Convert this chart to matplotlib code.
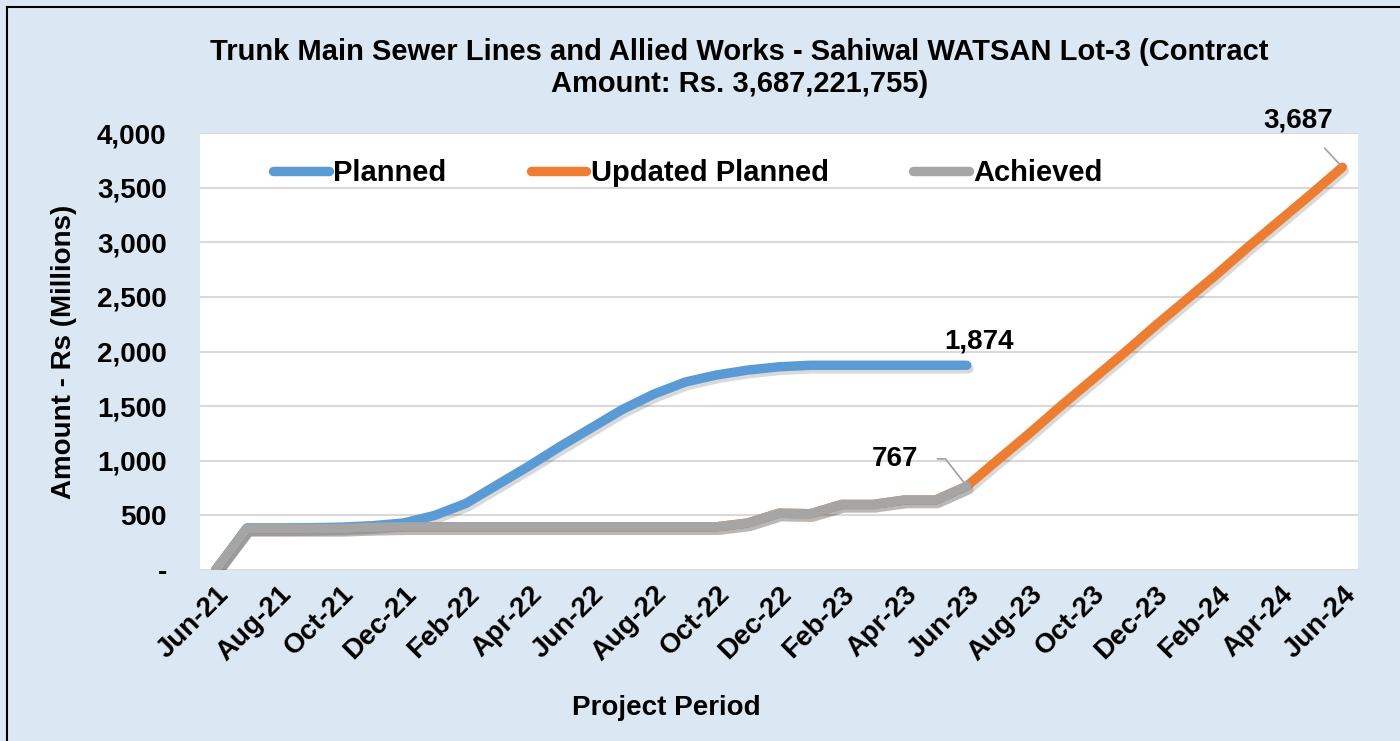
import matplotlib
matplotlib.use("Agg")
import numpy as np
import matplotlib.pyplot as plt
import matplotlib.patheffects as pe
from matplotlib.lines import Line2D

plt.rcParams['font.family'] = ['Liberation Sans', 'DejaVu Sans']
plt.rcParams['font.weight'] = 'bold'

months = ["Jun-21", "Jul-21", "Aug-21", "Sep-21", "Oct-21", "Nov-21", "Dec-21",
          "Jan-22", "Feb-22", "Mar-22", "Apr-22", "May-22", "Jun-22", "Jul-22",
          "Aug-22", "Sep-22", "Oct-22", "Nov-22", "Dec-22", "Jan-23", "Feb-23",
          "Mar-23", "Apr-23", "May-23", "Jun-23", "Jul-23", "Aug-23", "Sep-23",
          "Oct-23", "Nov-23", "Dec-23", "Jan-24", "Feb-24", "Mar-24", "Apr-24",
          "May-24", "Jun-24"]

planned = [0, 385, 385, 387, 392, 405, 430, 500, 610, 780, 950, 1130, 1300,
           1470, 1610, 1720, 1785, 1830, 1860, 1874, 1874, 1874, 1874, 1874, 1874]

achieved = [0, 380, 380, 380, 380, 390, 395, 395, 395, 395, 395, 395, 395,
            395, 395, 395, 395, 430, 520, 515, 600, 600, 640, 640, 767]

updated_planned = achieved + [1010, 1250, 1500, 1740, 1980, 2230, 2470, 2710,
                              2960, 3200, 3440, 3687]

c_planned = '#5B9BD5'
c_updated = '#ED7D31'
c_achieved = '#A5A5A5'

fig = plt.figure(figsize=(14, 7.41), dpi=100)
fig.patch.set_facecolor('#dbe8f4')
ax = fig.add_axes([200 / 1400, 1 - 570 / 741, 1158 / 1400, 437 / 741])
ax.set_facecolor('white')

shadow = [pe.SimpleLineShadow(offset=(1.5, -2.5), alpha=0.15, shadow_color='black'), pe.Normal()]

x_up = np.arange(len(updated_planned))
x_pl = np.arange(len(planned))
x_ac = np.arange(len(achieved))

ax.plot(x_up, updated_planned, color=c_updated, lw=6.8, solid_capstyle='round',
        solid_joinstyle='round', path_effects=shadow, zorder=3)
ax.plot(x_pl, planned, color=c_planned, lw=6.8, solid_capstyle='round',
        solid_joinstyle='round', path_effects=shadow, zorder=4)
ax.plot(x_ac, achieved, color=c_achieved, lw=6.8, solid_capstyle='round',
        solid_joinstyle='round', path_effects=shadow, zorder=5)

ax.set_xlim(-0.5, len(months) - 0.5)
ax.set_ylim(0, 4000)
ax.set_yticks(np.arange(0, 4001, 500))
ax.set_yticklabels(['-'] + [f"{v:,}" for v in range(500, 4001, 500)])
ax.set_xticks(np.arange(0, len(months), 2))
ax.set_xticklabels(months[::2], rotation=45, ha='right', va='top', rotation_mode='anchor')
ax.tick_params(axis='y', length=0, pad=24, labelsize=20)
ax.tick_params(axis='x', length=0, pad=8, labelsize=20)
ax.grid(axis='y', color='#d9d9d9', lw=1.5)
ax.set_axisbelow(True)
for s in ax.spines.values():
    s.set_visible(False)

ax.set_ylabel('Amount - Rs (Millions)', fontsize=20, fontweight='bold', labelpad=14)
ax.set_xlabel('Project Period', fontsize=20, fontweight='bold')
ax.xaxis.set_label_coords((666 - 200) / 1158, -(708 - 570) / 437)
ax.xaxis.label.set_va('center')

fig.text(0.528, 1 - 68 / 741,
         'Trunk Main Sewer Lines and Allied Works - Sahiwal WATSAN Lot-3 (Contract\nAmount: Rs. 3,687,221,755)',
         ha='center', va='center', fontsize=21, fontweight='bold', linespacing=1.22)

# data labels
ax.text(len(planned) - 1 + 0.4, planned[-1] + 220, f"{planned[-1]:,}", fontsize=20,
        fontweight='bold', ha='center', va='center')
ax.annotate(f"{achieved[-1]:,}", xy=(len(achieved) - 1, achieved[-1]),
            xytext=(len(achieved) - 3.3, achieved[-1] + 250), fontsize=20, fontweight='bold',
            ha='center', va='center',
            arrowprops=dict(arrowstyle='-', color='#a0a0a0', lw=1.2, shrinkA=12, shrinkB=2,
                            connectionstyle='angle,angleA=0,angleB=-52,rad=0'))
ax.annotate(f"{updated_planned[-1]:,}", xy=(len(updated_planned) - 1, updated_planned[-1]),
            xytext=(len(updated_planned) - 2.4, updated_planned[-1] + 430), fontsize=20,
            fontweight='bold', ha='center', va='center', annotation_clip=False,
            arrowprops=dict(arrowstyle='-', color='#a0a0a0', lw=1.2, shrinkA=12, shrinkB=2))

handles = [Line2D([], [], color=c, lw=6.8, solid_capstyle='round') for c in (c_planned, c_updated, c_achieved)]
ax.legend(handles, ['Planned', 'Updated Planned', 'Achieved'], loc='center',
          bbox_to_anchor=(688 / 1400, 1 - 173 / 741), bbox_transform=fig.transFigure,
          ncol=3, frameon=False, handlelength=1.9, handletextpad=0.15,
          columnspacing=2.9, prop={'weight': 'bold', 'size': 21})

# frame lines along left and top
fig.add_artist(Line2D([7 / 1400, 7 / 1400], [0, 1 - 7 / 741], color='black', lw=1.5, transform=fig.transFigure))
fig.add_artist(Line2D([7 / 1400, 1], [1 - 7 / 741, 1 - 7 / 741], color='black', lw=1.5, transform=fig.transFigure))

fig.savefig('out.png', dpi=100, facecolor=fig.get_facecolor())
